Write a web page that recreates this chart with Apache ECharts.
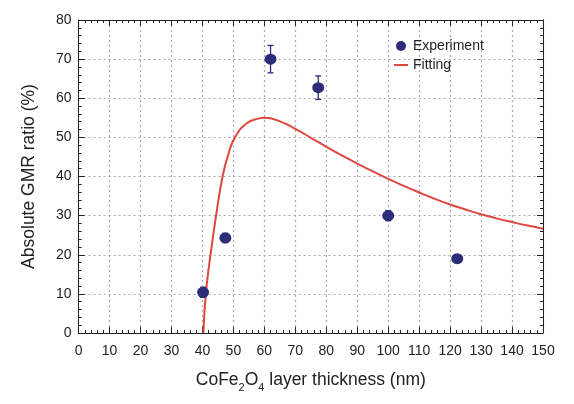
<!DOCTYPE html>
<html>
<head>
<meta charset="utf-8">
<script src="https://cdn.jsdelivr.net/npm/echarts@6/dist/echarts.min.js"></script>
<style>
  html, body { margin: 0; padding: 0; background: #fff; }
  #chart { width: 574px; height: 404px; }
</style>
</head>
<body>
<div id="chart"></div>
<script>
// measured points (thickness nm, GMR %, error)
const expX = [40.2, 47.4, 62, 77.4, 100, 122.3];
const expY = [10.4, 24.3, 70, 62.7, 30, 19];
const expErr = [1.3, 1.2, 3.5, 3, 1.3, 1];

// fitted curve
const fitX = [40.3, 41.1, 42.6, 44.4, 46.5, 48.3, 50.5, 54.3, 58, 60, 65, 70, 75, 80, 85, 90, 95, 100, 105, 110, 115, 120, 125, 130, 135, 140, 145, 150];
const fitY = [0, 10, 20, 30, 40, 45.5, 50, 53.6, 54.8, 55, 54.1, 52.2, 49.9, 47.6, 45.4, 43.3, 41.3, 39.4, 37.6, 35.9, 34.3, 32.85, 31.55, 30.35, 29.3, 28.35, 27.45, 26.65];

const navy = "#2b2d78";
const red = "#e0473f";
const font = "Liberation Sans, Arial, sans-serif";

const chart = echarts.init(document.getElementById("chart"));

const axisCommon = {
  type: "value",
  axisLine: { show: true, onZero: false, lineStyle: { color: "#222", width: 1 } },
  axisTick: { show: true, inside: true, length: 6, lineStyle: { color: "#222" } },
  minorTick: { show: true, splitNumber: 5, length: 3, lineStyle: { color: "#222" } }
};

chart.setOption({
  animation: false,
  textStyle: { fontFamily: font },
  grid: { left: 78.6, right: 31, top: 20, bottom: 71 },
  legend: {
    left: 389,
    top: 34,
    orient: "vertical",
    itemWidth: 14,
    itemHeight: 10,
    itemGap: 5,
    textStyle: { fontSize: 14, color: "#222", fontFamily: font },
    data: [
      { name: "Experiment", icon: "circle" },
      { name: "Fitting", icon: "path://M0,0 L14,0 L14,2 L0,2 Z" }
    ]
  },
  xAxis: [
    Object.assign({}, axisCommon, {
      min: 0, max: 150, interval: 10,
      axisLabel: { fontSize: 14, color: "#222", margin: 11 },
      splitLine: { show: true, lineStyle: { color: "#aaa", type: [2, 3], width: 1.2 } },
      name: "{a|CoFe}{s|2}{a|O}{s|4}{a| layer thickness (nm)}",
      nameLocation: "middle",
      nameGap: 38,
      nameTextStyle: {
        rich: {
          a: { fontSize: 17.5, color: "#222", fontFamily: font, verticalAlign: "bottom" },
          s: { fontSize: 11, color: "#222", fontFamily: font, verticalAlign: "bottom", padding: [0, 0, -4, 0] }
        }
      }
    }),
    Object.assign({}, axisCommon, {
      position: "top",
      min: 0, max: 150, interval: 10,
      axisLabel: { show: false },
      splitLine: { show: false }
    })
  ],
  yAxis: [
    Object.assign({}, axisCommon, {
      min: 0, max: 80, interval: 10,
      axisLabel: { fontSize: 14, color: "#222", margin: 7 },
      splitLine: { show: true, lineStyle: { color: "#aaa", type: [2, 3], width: 1.2 } },
      name: "Absolute GMR ratio (%)",
      nameLocation: "middle",
      nameGap: 40,
      nameTextStyle: { fontSize: 17.5, color: "#222", fontFamily: font }
    }),
    Object.assign({}, axisCommon, {
      position: "right",
      min: 0, max: 80, interval: 10,
      axisLabel: { show: false },
      splitLine: { show: false }
    })
  ],
  series: [
    {
      name: "Fitting",
      type: "line",
      symbol: "none",
      smooth: 0.5,
      smoothConstraint: false,
      data: fitX.map((x, i) => [x, fitY[i]]),
      lineStyle: { color: red, width: 2 },
      itemStyle: { color: red },
      z: 3
    },
    {
      name: "Error",
      type: "custom",
      data: expX.map((x, i) => [x, expY[i] - expErr[i], expY[i] + expErr[i]]),
      renderItem: function (params, api) {
        const lo = api.coord([api.value(0), api.value(1)]);
        const hi = api.coord([api.value(0), api.value(2)]);
        const cap = 3;
        const style = { stroke: navy, lineWidth: 1.3 };
        return {
          type: "group",
          children: [
            { type: "line", shape: { x1: lo[0], y1: lo[1], x2: hi[0], y2: hi[1] }, style: style },
            { type: "line", shape: { x1: lo[0] - cap, y1: lo[1], x2: lo[0] + cap, y2: lo[1] }, style: style },
            { type: "line", shape: { x1: hi[0] - cap, y1: hi[1], x2: hi[0] + cap, y2: hi[1] }, style: style }
          ]
        };
      },
      z: 4
    },
    {
      name: "Experiment",
      type: "scatter",
      symbol: "circle",
      symbolSize: [12, 11],
      data: expX.map((x, i) => [x, expY[i]]),
      itemStyle: { color: navy, opacity: 1 },
      z: 5
    }
  ]
});
</script>
</body>
</html>
